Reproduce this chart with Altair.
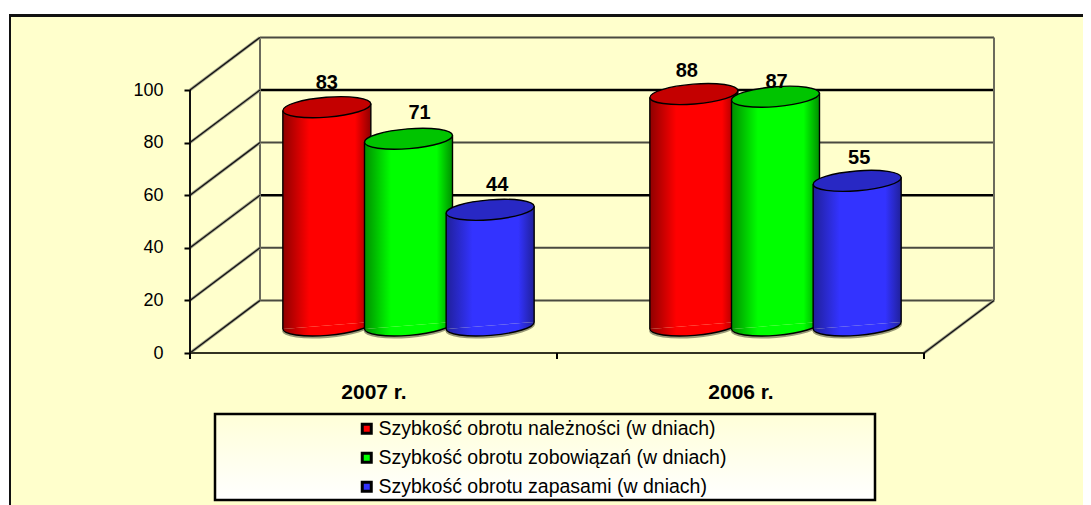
import altair as alt
import pandas as pd

categories = ["2007 r.", "2006 r."]
series = ["Szybkość obrotu należności (w dniach)",
          "Szybkość obrotu zobowiązań (w dniach)",
          "Szybkość obrotu zapasami (w dniach)"]
values = [[83, 71, 44], [88, 87, 55]]
levels = [0, 20, 40, 60, 80, 100]

# --- layout (not data) ---
W, H = 1075, 497
PX_X, PX_Y = 367.0, 2.63          # pixels per category / per value unit
X0, Y0 = 190, 353                 # page position of the front origin
DEPTH_X = 70 / PX_X               # wall shift, category units
DEPTH_Y = 20.0                    # wall shift, value units
BASE = (Y0 - 325.5) / PX_Y        # cylinder base centre
HALF = 44 / PX_X
TILT = 3.5 / PX_Y
STEP = 0.2225
CAP = 7744                        # symbol size giving 88 px width
body_col = ["#ff0000", "#00ff00", "#3333ff"]
edge_col = ["#8f0000", "#008f00", "#20209a"]
top_col = ["#c40000", "#00c400", "#2828c4"]
label_nudge = [[(0, 24), (11, 26), (7, 25)], [(-7, 23), (1, 15), (2, 23)]]

x_scale = alt.Scale(domain=[(8 - X0) / PX_X, (8 + W - X0) / PX_X], nice=False, zero=False)
y_scale = alt.Scale(domain=[(Y0 - 8 - H) / PX_Y, (Y0 - 8) / PX_Y], nice=False, zero=False)

x_axis = alt.Axis(
    values=[0.5, 1.5], offset=-(8 + H - Y0), domain=False, ticks=False, grid=False, zindex=1, title=None,
    labelExpr="datum.value < 1 ? '%s' : '%s'" % tuple(categories), labelFont="Liberation Sans",
    labelFontSize=21, labelFontWeight="bold", labelColor="black", labelPadding=28, labelFlush=False)
y_axis = alt.Axis(
    values=levels, offset=-(X0 - 8), domain=False, tickSize=6, tickColor="black", tickWidth=2, grid=False,
    zindex=1, title=None, labelFont="Liberation Sans", labelFontSize=18, labelColor="black", labelPadding=21)

TOP = "M-1,0.08A1,0.225,-4.6,1,1,1,-0.08A1,0.225,-4.6,1,1,-1,0.08Z"
BOTTOM = "M-1,0.08A1,0.225,-4.6,0,0,1,-0.08"

rows, body = [], []
for c, cat in enumerate(categories):
    for s, name in enumerate(series):
        v = values[c][s]
        cx = c + 0.5 + DEPTH_X / 2 + (s - 1) * STEP
        nx, ny = label_nudge[c][s]
        rows.append(dict(cat=cat, s=s, series=name, value=v, cx=cx, base=BASE, top=BASE + v,
                         lx=cx + nx / PX_X, ly=BASE + v + ny / PX_Y))
        for side in (-1, 1):
            body.append(dict(cat=cat, s=s, x=cx + side * HALF,
                             y=BASE + v + side * TILT, y2=BASE + side * TILT))
rows = pd.DataFrame(rows)
body = pd.DataFrame(body)
X = lambda f: alt.X(f, type="quantitative", scale=x_scale, axis=x_axis)
Y = lambda f: alt.Y(f, type="quantitative", scale=y_scale, axis=y_axis)


def px_rect(x, x2, y, y2, **mark):
    return alt.Chart(pd.DataFrame({"a": [0]})).mark_rect(**mark).encode(
        x=alt.value(x), x2=alt.value(x2), y=alt.value(y), y2=alt.value(y2))


def grad(stops, vertical=False):
    return alt.LinearGradient(
        gradient="linear", x1=0, y1=0, x2=0 if vertical else 1, y2=1 if vertical else 0,
        stops=[alt.GradientStop(offset=o, color=c) for o, c in stops])


def rules(df, color, width):
    enc = {"x": X("x"), "y": Y("y")}
    if "x2" in df:
        enc["x2"] = alt.X2("x2")
    if "y2" in df:
        enc["y2"] = alt.Y2("y2")
    return alt.Chart(df).mark_rule(color=color, strokeWidth=width).encode(**enc)


# frame
card = px_rect(2, W, 8, H, color="#ffffcc")
card_top = px_rect(1, W, 6, 9, color="#111111")
card_left = px_rect(1, 3, 6, H, color="#111111")

# walls
back_grey = pd.DataFrame([dict(x=DEPTH_X, x2=2 + DEPTH_X, y=l + DEPTH_Y) for l in levels if l + 20 not in (100, 60)])
back_black = pd.DataFrame([dict(x=DEPTH_X, x2=2 + DEPTH_X, y=l + DEPTH_Y) for l in levels if l + 20 in (100, 60)])
side = pd.DataFrame([dict(x=0, x2=DEPTH_X, y=l, y2=l + DEPTH_Y) for l in levels])
floor = pd.DataFrame([dict(x=2, x2=2 + DEPTH_X, y=0, y2=DEPTH_Y)])
front = pd.DataFrame([dict(x=0, x2=2, y=0)])
verticals = pd.DataFrame([dict(x=d, y=DEPTH_Y, y2=100 + DEPTH_Y) for d in (DEPTH_X, 2 + DEPTH_X)])
spine = pd.DataFrame([dict(x=0, y=0, y2=100)])
xticks = pd.DataFrame([dict(x=i, y=0, y2=-6 / PX_Y) for i in range(3)])

layers = [card, card_top, card_left,
          rules(back_grey, "#4a4a40", 2), rules(back_black, "#000000", 2.5),
          rules(verticals, "#6b6b5c", 2),
          rules(side, "#a5a58c", 3), rules(side, "#111111", 1.3),
          rules(floor, "#a5a58c", 3), rules(floor, "#111111", 1.3),
          rules(front, "#333322", 2), rules(spine, "#111111", 2), rules(xticks, "#000000", 2)]

# cylinders
for s in range(3):
    gradient = grad([(0, edge_col[s]), (0.3, body_col[s]), (0.82, body_col[s]), (1, edge_col[s])])
    r = rows[rows.s == s]
    b = body[body.s == s]
    layers.append(alt.Chart(r).mark_point(shape=BOTTOM, size=CAP, filled=True, fill="#999977", opacity=1,
                                          stroke="#999977", strokeWidth=2, yOffset=1.5).encode(x=X("cx"), y=Y("base")))
    layers.append(alt.Chart(b).mark_area(fill=gradient, opacity=1).encode(
        x=X("x"), y=Y("y"), y2=alt.Y2("y2"), detail="cat:N"))
    layers.append(alt.Chart(b).mark_rule(color="black", strokeWidth=1.4).encode(x=X("x"), y=Y("y"), y2=alt.Y2("y2")))
    layers.append(alt.Chart(r).mark_point(shape=BOTTOM, size=CAP, filled=True, fill=gradient, opacity=1,
                                          stroke="black", strokeWidth=1.4).encode(x=X("cx"), y=Y("base")))
    layers.append(alt.Chart(r).mark_point(shape=TOP, size=CAP, filled=True, fill=top_col[s], opacity=1,
                                          stroke="black", strokeWidth=1.4).encode(x=X("cx"), y=Y("top")))

# value labels
layers.append(alt.Chart(rows).mark_text(font="Liberation Sans", fontSize=20, fontWeight="bold", color="black").encode(
    x=X("lx"), y=Y("ly"), text="value:Q"))

# legend box + real legend
layers.append(px_rect(207, 867, 406, 492, stroke="black", strokeWidth=2.5,
                      fill=grad([(0, "#ffffd8"), (1, "#ffffff")], vertical=True)))
layers.append(alt.Chart(rows).mark_square(size=0, opacity=1).encode(
    x=X("cx"), y=Y("base"),
    fill=alt.Fill("series:N", scale=alt.Scale(domain=series, range=body_col), legend=alt.Legend(
        title=None, orient="none", legendX=349, legendY=411, columns=1, symbolType="square",
        symbolSize=81, symbolStrokeColor="black", symbolStrokeWidth=3, symbolOpacity=1,
        labelFont="Liberation Sans", labelFontSize=19.5, labelColor="black", labelLimit=500,
        labelOffset=2, rowPadding=7, padding=0))))

chart = alt.layer(*layers).properties(
    width=W, height=H, padding=0, autosize=alt.AutoSizeParams(type="none"), background="white"
).configure_view(stroke=None)

chart.save("out.html", embed_options={"renderer": "svg", "actions": False})
